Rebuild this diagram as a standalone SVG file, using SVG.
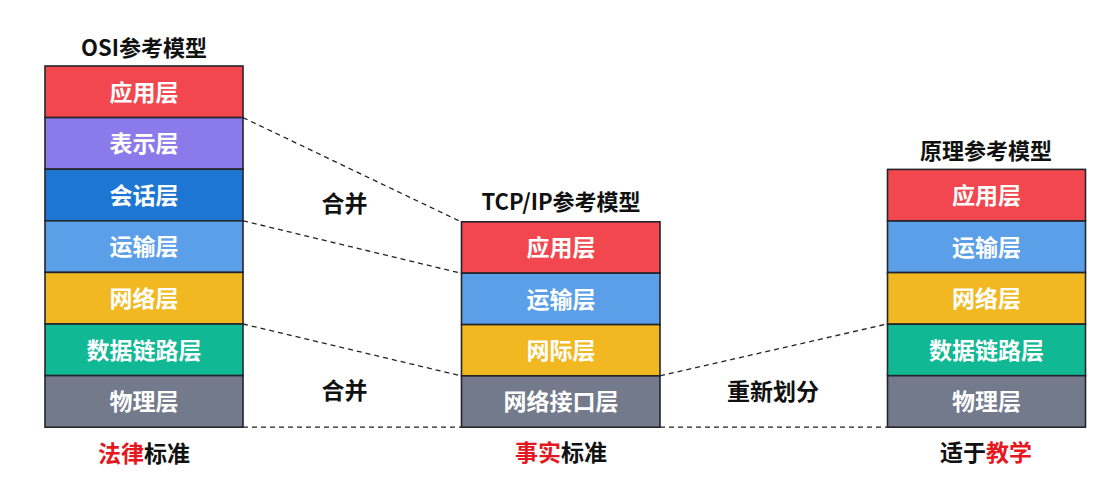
<svg xmlns="http://www.w3.org/2000/svg" width="1103" height="479" viewBox="0 0 1103 479">
  <style>
    text { font-family: "Noto Sans CJK SC", "Noto Sans", sans-serif; font-weight: bold; text-anchor: middle; }
    .layer text { fill: #ffffff; font-size: 23px; }
    .layer rect { stroke: #23252b; stroke-width: 1.6; }
    .title { fill: #111111; font-size: 22px; }
    .note { fill: #111111; font-size: 23px; }
    .hl { fill: #e5171f; }
    .dash { stroke: #222222; stroke-width: 1.3; stroke-dasharray: 5 4; fill: none; }
    .red { fill: #f2474f; } .purple { fill: #8b7bea; } .dblue { fill: #1e76d3; }
    .lblue { fill: #5b9fe9; } .yellow { fill: #f2b821; } .green { fill: #10b894; } .gray { fill: #737a8c; }
  </style>

  <!-- connectors between the stacks -->
  <g id="connectors">
    <line class="dash" x1="243" y1="117.6" x2="461" y2="221.8"/>
    <line class="dash" x1="243" y1="220.8" x2="461" y2="273.2"/>
    <line class="dash" x1="243" y1="324" x2="461" y2="375.8"/>
    <line class="dash" x1="243" y1="427.2" x2="461" y2="427.2"/>
    <line class="dash" x1="660" y1="375.8" x2="887" y2="324"/>
    <line class="dash" x1="660" y1="427.2" x2="887" y2="427.2"/>
  </g>

  <!-- OSI stack -->
  <g id="osi">
    <text class="title" x="144" y="56">OSI参考模型</text>
    <g class="layer" id="osi-app"><rect class="red" x="45" y="66" width="198" height="51.6"/><text x="144" y="100.5">应用层</text></g>
    <g class="layer" id="osi-pres"><rect class="purple" x="45" y="117.6" width="198" height="51.6"/><text x="144" y="152.1">表示层</text></g>
    <g class="layer" id="osi-sess"><rect class="dblue" x="45" y="169.2" width="198" height="51.6"/><text x="144" y="203.7">会话层</text></g>
    <g class="layer" id="osi-trans"><rect class="lblue" x="45" y="220.8" width="198" height="51.6"/><text x="144" y="255.3">运输层</text></g>
    <g class="layer" id="osi-net"><rect class="yellow" x="45" y="272.4" width="198" height="51.6"/><text x="144" y="306.9">网络层</text></g>
    <g class="layer" id="osi-link"><rect class="green" x="45" y="324" width="198" height="51.6"/><text x="144" y="358.5">数据链路层</text></g>
    <g class="layer" id="osi-phys"><rect class="gray" x="45" y="375.6" width="198" height="51.6"/><text x="144" y="410.1">物理层</text></g>
    <text class="note" x="144" y="461.5"><tspan class="hl">法律</tspan>标准</text>
  </g>

  <!-- TCP/IP stack -->
  <g id="tcpip">
    <text class="title" x="561" y="210">TCP/IP参考模型</text>
    <g class="layer" id="tcp-app"><rect class="red" x="461.5" y="221.8" width="198.5" height="51.4"/><text x="561" y="256.2">应用层</text></g>
    <g class="layer" id="tcp-trans"><rect class="lblue" x="461.5" y="273.2" width="198.5" height="51.4"/><text x="561" y="307.6">运输层</text></g>
    <g class="layer" id="tcp-inet"><rect class="yellow" x="461.5" y="324.6" width="198.5" height="51.3"/><text x="561" y="359">网际层</text></g>
    <g class="layer" id="tcp-if"><rect class="gray" x="461.5" y="375.9" width="198.5" height="51.3"/><text x="561" y="410.3">网络接口层</text></g>
    <text class="note" x="561" y="460.5"><tspan class="hl">事实</tspan>标准</text>
  </g>

  <!-- teaching model stack -->
  <g id="principle">
    <text class="title" x="986" y="159">原理参考模型</text>
    <g class="layer" id="pr-app"><rect class="red" x="887.5" y="169.4" width="198" height="51.6"/><text x="986.5" y="203.9">应用层</text></g>
    <g class="layer" id="pr-trans"><rect class="lblue" x="887.5" y="221" width="198" height="51.6"/><text x="986.5" y="255.5">运输层</text></g>
    <g class="layer" id="pr-net"><rect class="yellow" x="887.5" y="272.6" width="198" height="51.6"/><text x="986.5" y="307.1">网络层</text></g>
    <g class="layer" id="pr-link"><rect class="green" x="887.5" y="324.2" width="198" height="51.5"/><text x="986.5" y="358.7">数据链路层</text></g>
    <g class="layer" id="pr-phys"><rect class="gray" x="887.5" y="375.7" width="198" height="51.5"/><text x="986.5" y="410.2">物理层</text></g>
    <text class="note" x="986" y="460.5">适于<tspan class="hl">教学</tspan></text>
  </g>

  <!-- relation labels -->
  <g id="labels">
    <text class="note" x="344.5" y="211.5">合并</text>
    <text class="note" x="344.5" y="398.5">合并</text>
    <text class="note" x="773" y="399.5">重新划分</text>
  </g>
</svg>
